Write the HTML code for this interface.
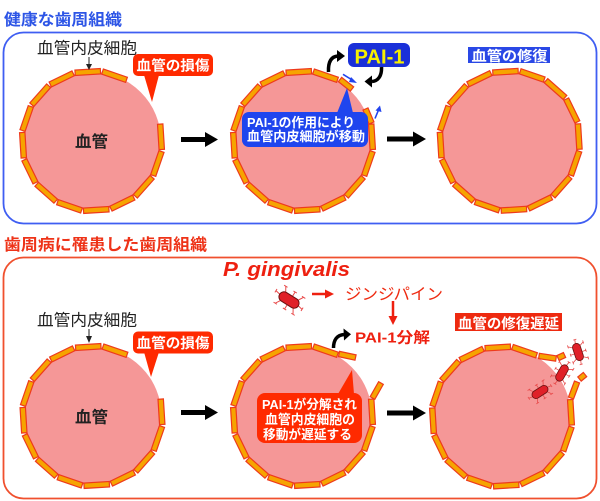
<!DOCTYPE html>
<html><head><meta charset="utf-8"><style>
html,body{margin:0;padding:0;background:#fff;}
svg{display:block;}
text{font-family:"Liberation Sans","Noto Sans CJK JP",sans-serif;}
</style></head><body>
<svg width="600" height="501" viewBox="0 0 600 501" xmlns="http://www.w3.org/2000/svg">
<defs>
<rect id="b" x="-12.7" y="-71.8" width="25.4" height="5.4" fill="#f6a400" stroke="#ee3a1c" stroke-width="1.2"/>
<g id="bac">
<g stroke="#e84a4a" stroke-width="1" fill="none">
<path d="M-7,-5 L-10,-10 M1,-5 L1,-10 M8,-5 L11,-10 M-7,5 L-10,10 M1,5 L1,10 M8,5 L11,10 M-11,0 L-16,-1 M11,0 L16,1"/>
<path d="M-12,-10 L-8,-10 M-1,-10 L3,-10 M9,-10 L13,-10 M-12,10 L-8,10 M-1,10 L3,10 M9,10 L13,10 M-16,-3 L-16,1 M16,-1 L16,3"/>
</g>
<rect x="-11" y="-5" width="22" height="10" rx="5" fill="#e02028" stroke="#6a1010" stroke-width="1"/>
</g>
</defs>

<!-- Panels -->
<rect x="3.5" y="32.5" width="593" height="191" rx="20" fill="none" stroke="#3f5ef2" stroke-width="1.8"/>
<rect x="3.5" y="257.5" width="593" height="241" rx="20" fill="none" stroke="#f0502e" stroke-width="1.8"/>

<text x="4" y="25" font-size="16" font-weight="bold" fill="#2d55e6" textLength="118" lengthAdjust="spacingAndGlyphs">健康な歯周組織</text>
<text x="4" y="250" font-size="16" font-weight="bold" fill="#ee3318" textLength="203" lengthAdjust="spacingAndGlyphs">歯周病に罹患した歯周組織</text>

<!-- ===== TOP ROW ===== -->
<!-- C1 top -->
<g transform="translate(92,141)">
<circle r="69" fill="#f59797"/>
<use href="#b" transform="rotate(-3.5)"/><use href="#b" transform="rotate(19)"/>
<use href="#b" transform="rotate(86.5)"/><use href="#b" transform="rotate(109)"/><use href="#b" transform="rotate(131.5)"/><use href="#b" transform="rotate(154)"/><use href="#b" transform="rotate(176.5)"/><use href="#b" transform="rotate(199)"/><use href="#b" transform="rotate(221.5)"/><use href="#b" transform="rotate(244)"/><use href="#b" transform="rotate(266.5)"/><use href="#b" transform="rotate(289)"/><use href="#b" transform="rotate(311.5)"/><use href="#b" transform="rotate(334)"/>
</g>
<text x="37" y="53.5" font-size="16" fill="#222" textLength="100" lengthAdjust="spacingAndGlyphs">血管内皮細胞</text>
<line x1="89" y1="57" x2="89" y2="66" stroke="#222" stroke-width="1"/>
<path d="M86,64 L89,70 L92,64 Z" fill="#222"/>
<text x="75" y="147" font-size="16" font-weight="bold" fill="#222" textLength="33" lengthAdjust="spacingAndGlyphs">血管</text>
<rect x="133" y="54" width="80" height="22" rx="5" fill="#ff2a00"/>
<path d="M144,75 L152,102 L159,75 Z" fill="#ff2a00"/>
<text x="136.5" y="70.5" font-size="14" font-weight="bold" fill="#fff" textLength="73" lengthAdjust="spacingAndGlyphs">血管の損傷</text>

<!-- arrow 1 top -->
<path d="M181,137 L205,137 L205,132 L218,139.5 L205,147 L205,142 L181,142 Z" fill="#000"/>

<!-- C2 top -->
<g transform="translate(303,141)">
<circle r="69" fill="#f59797"/>
<use href="#b" transform="rotate(-3.5)"/><use href="#b" transform="rotate(19)"/>
<use href="#b" transform="rotate(86.5)"/><use href="#b" transform="rotate(109)"/><use href="#b" transform="rotate(131.5)"/><use href="#b" transform="rotate(154)"/><use href="#b" transform="rotate(176.5)"/><use href="#b" transform="rotate(199)"/><use href="#b" transform="rotate(221.5)"/><use href="#b" transform="rotate(244)"/><use href="#b" transform="rotate(266.5)"/><use href="#b" transform="rotate(289)"/><use href="#b" transform="rotate(311.5)"/><use href="#b" transform="rotate(334)"/>
</g>
<rect x="0" y="-2.7" width="15.3" height="5.4" fill="#f6a400" stroke="#ee3a1c" stroke-width="1.2" transform="translate(340,79.5) rotate(38.4)"/>
<rect x="0" y="-2.7" width="15.2" height="5.4" fill="#f6a400" stroke="#ee3a1c" stroke-width="1.2" transform="translate(365.5,109) rotate(66.8)"/>
<!-- blue small arrows -->
<g stroke="#2244ee" stroke-width="1.6" fill="#2244ee">
<line x1="343" y1="74.3" x2="353" y2="80.5"/>
<path d="M351,77 L357,83 L349,82 Z" stroke="none"/>
<line x1="375" y1="118.5" x2="378.5" y2="110"/>
<path d="M375.5,110.5 L380,105.5 L381.5,112 Z" stroke="none"/>
</g>
<!-- blue bubble -->
<rect x="242" y="112" width="126" height="35" rx="7" fill="#1f45ee"/>
<path d="M337,113 L347,88 L353,113 Z" fill="#1f45ee"/>
<text x="247" y="127" font-size="13" font-weight="bold" fill="#fff" textLength="108" lengthAdjust="spacingAndGlyphs">PAI-1の作用により</text>
<text x="247" y="141" font-size="13" font-weight="bold" fill="#fff" textLength="118" lengthAdjust="spacingAndGlyphs">血管内皮細胞が移動</text>
<!-- PAI-1 box -->
<rect x="348" y="43" width="62" height="24" rx="6" fill="#1a30d8"/>
<text x="354.5" y="63.5" font-size="20" font-weight="bold" fill="#f8f000" textLength="50" lengthAdjust="spacingAndGlyphs">PAI-1</text>
<!-- curved black arrows -->
<path d="M328.5,72 C328,62 331,56.5 338,56" fill="none" stroke="#000" stroke-width="3.5"/>
<path d="M337,50 L345,56 L337,62 Z" fill="#000"/>
<path d="M381.5,67 C382,76 378,81 372,81.5" fill="none" stroke="#000" stroke-width="3.5"/>
<path d="M372,75.5 L364.5,81.5 L372,87.5 Z" fill="#000"/>

<!-- arrow 2 top -->
<path d="M387,136.5 L413,136.5 L413,131.5 L426,139 L413,146.5 L413,141.5 L387,141.5 Z" fill="#000"/>

<!-- C3 top -->
<g transform="translate(509.7,140.8)">
<circle r="69" fill="#f59797"/>
<use href="#b" transform="rotate(-3.5)"/><use href="#b" transform="rotate(19)"/><use href="#b" transform="rotate(41.5)"/><use href="#b" transform="rotate(64)"/>
<use href="#b" transform="rotate(86.5)"/><use href="#b" transform="rotate(109)"/><use href="#b" transform="rotate(131.5)"/><use href="#b" transform="rotate(154)"/><use href="#b" transform="rotate(176.5)"/><use href="#b" transform="rotate(199)"/><use href="#b" transform="rotate(221.5)"/><use href="#b" transform="rotate(244)"/><use href="#b" transform="rotate(266.5)"/><use href="#b" transform="rotate(289)"/><use href="#b" transform="rotate(311.5)"/><use href="#b" transform="rotate(334)"/>
</g>
<rect x="468" y="47" width="82" height="16" fill="#2a48e6"/>
<text x="471.5" y="61" font-size="14" font-weight="bold" fill="#fff" textLength="76" lengthAdjust="spacingAndGlyphs">血管の修復</text>

<!-- ===== BOTTOM ROW ===== -->
<text x="223" y="276" font-size="20" font-weight="bold" font-style="italic" fill="#ee2010" textLength="127" lengthAdjust="spacingAndGlyphs">P. gingivalis</text>
<use href="#bac" transform="translate(289,300) rotate(32)"/>
<line x1="312" y1="294" x2="326" y2="294" stroke="#ee2010" stroke-width="2.5"/>
<path d="M325,289.5 L334,294 L325,298.5 Z" fill="#ee2010"/>
<text x="345" y="299.5" font-size="16" fill="#ee2a10" textLength="98" lengthAdjust="spacingAndGlyphs">ジンジパイン</text>
<line x1="393" y1="301" x2="393" y2="317" stroke="#ee2010" stroke-width="2.5"/>
<path d="M388.5,316 L393,325 L397.5,316 Z" fill="#ee2010"/>
<text x="355" y="342.5" font-size="15" font-weight="bold" fill="#ee2010" textLength="75" lengthAdjust="spacingAndGlyphs">PAI-1分解</text>

<!-- C1 bottom -->
<g transform="translate(92.5,416)">
<circle r="69" fill="#f59797"/>
<use href="#b" transform="rotate(-3.5)"/><use href="#b" transform="rotate(19)"/>
<use href="#b" transform="rotate(86.5)"/><use href="#b" transform="rotate(109)"/><use href="#b" transform="rotate(131.5)"/><use href="#b" transform="rotate(154)"/><use href="#b" transform="rotate(176.5)"/><use href="#b" transform="rotate(199)"/><use href="#b" transform="rotate(221.5)"/><use href="#b" transform="rotate(244)"/><use href="#b" transform="rotate(266.5)"/><use href="#b" transform="rotate(289)"/><use href="#b" transform="rotate(311.5)"/><use href="#b" transform="rotate(334)"/>
</g>
<text x="37" y="325.5" font-size="16" fill="#222" textLength="100" lengthAdjust="spacingAndGlyphs">血管内皮細胞</text>
<line x1="89" y1="329" x2="89" y2="338" stroke="#222" stroke-width="1"/>
<path d="M86,336 L89,343 L92,336 Z" fill="#222"/>
<text x="75" y="422.5" font-size="16" font-weight="bold" fill="#222" textLength="33" lengthAdjust="spacingAndGlyphs">血管</text>
<rect x="133" y="331.5" width="80" height="22" rx="5" fill="#ff2a00"/>
<path d="M144,352 L151,377 L159,352 Z" fill="#ff2a00"/>
<text x="136.5" y="348" font-size="14" font-weight="bold" fill="#fff" textLength="73" lengthAdjust="spacingAndGlyphs">血管の損傷</text>

<path d="M181,410 L205,410 L205,405 L218,412.5 L205,420 L205,415 L181,415 Z" fill="#000"/>

<!-- C2 bottom -->
<g transform="translate(303,416)">
<circle r="69" fill="#f59797"/>
<use href="#b" transform="rotate(-3.5)"/><use href="#b" transform="rotate(19)"/>
<use href="#b" transform="rotate(86.5)"/><use href="#b" transform="rotate(109)"/><use href="#b" transform="rotate(131.5)"/><use href="#b" transform="rotate(154)"/><use href="#b" transform="rotate(176.5)"/><use href="#b" transform="rotate(199)"/><use href="#b" transform="rotate(221.5)"/><use href="#b" transform="rotate(244)"/><use href="#b" transform="rotate(266.5)"/><use href="#b" transform="rotate(289)"/><use href="#b" transform="rotate(311.5)"/><use href="#b" transform="rotate(334)"/>
</g>
<rect x="0" y="-2.7" width="16.9" height="5.4" fill="#f6a400" stroke="#ee3a1c" stroke-width="1.2" transform="translate(339,354) rotate(12)"/>
<rect x="0" y="-2.7" width="17.2" height="5.4" fill="#f6a400" stroke="#ee3a1c" stroke-width="1.2" transform="translate(372.5,398) rotate(-60.5)"/>
<path d="M333.5,348 C333.5,340 337,335 344,334.5" fill="none" stroke="#000" stroke-width="3.5"/>
<path d="M343.5,328.5 L351,334.3 L344,340.5 Z" fill="#000"/>
<rect x="257" y="393" width="105" height="50" rx="8" fill="#ff2a00"/>
<path d="M338,394 L352,370 L354,394 Z" fill="#ff2a00"/>
<text x="309.5" y="409" font-size="13" font-weight="bold" fill="#fff" text-anchor="middle" textLength="95" lengthAdjust="spacingAndGlyphs">PAI-1が分解され</text>
<text x="310" y="424" font-size="13" font-weight="bold" fill="#fff" text-anchor="middle" textLength="90" lengthAdjust="spacingAndGlyphs">血管内皮細胞の</text>
<text x="307.5" y="439" font-size="13" font-weight="bold" fill="#fff" text-anchor="middle" textLength="89" lengthAdjust="spacingAndGlyphs">移動が遅延する</text>

<path d="M387,410.5 L413,410.5 L413,405.5 L426,413 L413,420.5 L413,415.5 L387,415.5 Z" fill="#000"/>

<!-- C3 bottom -->
<g transform="translate(502,416.5)">
<circle r="69" fill="#f59797"/>
<use href="#b" transform="rotate(-3.5)"/><use href="#b" transform="rotate(19)"/>
<use href="#b" transform="rotate(86.5)"/><use href="#b" transform="rotate(109)"/><use href="#b" transform="rotate(131.5)"/><use href="#b" transform="rotate(154)"/><use href="#b" transform="rotate(176.5)"/><use href="#b" transform="rotate(199)"/><use href="#b" transform="rotate(221.5)"/><use href="#b" transform="rotate(244)"/><use href="#b" transform="rotate(266.5)"/><use href="#b" transform="rotate(289)"/><use href="#b" transform="rotate(311.5)"/><use href="#b" transform="rotate(334)"/>
</g>
<rect x="0" y="-2.7" width="17.2" height="5.4" fill="#f6a400" stroke="#ee3a1c" stroke-width="1.2" transform="translate(539,356) rotate(8.4)"/>
<rect x="0" y="-2.7" width="7.2" height="5.4" fill="#f6a400" stroke="#ee3a1c" stroke-width="1.2" transform="translate(558,358) rotate(-24.8)"/>
<rect x="0" y="-2.7" width="17.1" height="5.4" fill="#f6a400" stroke="#ee3a1c" stroke-width="1.2" transform="translate(571,398) rotate(-69.4)"/>
<rect x="0" y="-2.7" width="7.1" height="5.4" fill="#f6a400" stroke="#ee3a1c" stroke-width="1.2" transform="translate(579.5,379) rotate(-39)"/>
<use href="#bac" transform="translate(578,352) rotate(72) scale(0.8)"/>
<use href="#bac" transform="translate(562,373) rotate(-60) scale(0.8)"/>
<use href="#bac" transform="translate(540,392) rotate(-33) scale(0.8)"/>
<rect x="455" y="313" width="107" height="18" fill="#ee2a10"/>
<text x="458" y="328.5" font-size="14" font-weight="bold" fill="#fff" textLength="101" lengthAdjust="spacingAndGlyphs">血管の修復遅延</text>
</svg>
</body></html>
